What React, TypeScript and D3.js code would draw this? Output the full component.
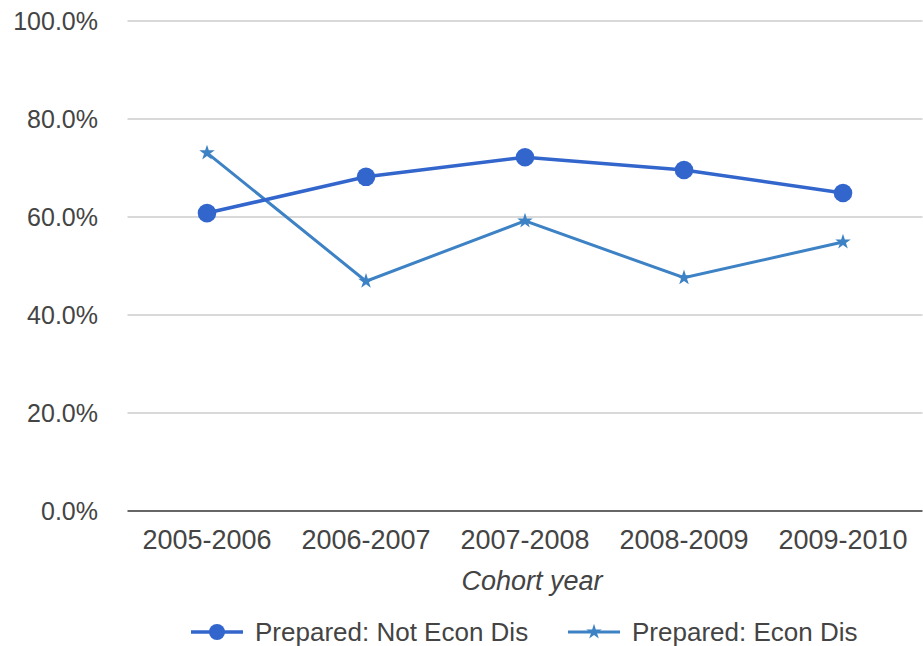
import React, { useEffect } from "react";
import * as d3 from "d3";

const categories = ["2005-2006", "2006-2007", "2007-2008", "2008-2009", "2009-2010"];
const notEconDis = [60.8, 68.2, 72.2, 69.6, 64.9];
const econDis = [73.1, 46.9, 59.2, 47.6, 54.9];
const yTicks = [0, 20, 40, 60, 80, 100];
const seriesNames = ["Prepared: Not Econ Dis", "Prepared: Econ Dis"];
const xTitle = "Cohort year";

const W = 923;
const H = 646;
const left = 127.5;
const right = 922.5;
const top = 21;
const bottom = 511;
const font = "'Liberation Sans', Arial, sans-serif";
const c1 = "#3366cc";
const c2 = "#3d82c4";
const textColor = "#444";

export default function App() {
  useEffect(() => {
    document.body.style.margin = "0";
  }, []);

  const x = d3.scaleBand<string>().domain(categories).range([left, right]);
  const y = d3.scaleLinear().domain([0, 100]).range([bottom, top]);
  const cx = (c: string) => (x(c) as number) + x.bandwidth() / 2;

  const line = d3
    .line<number>()
    .x((_, i) => cx(categories[i]))
    .y((d) => y(d));

  const star = d3.symbol().type(d3.symbolStar).size(75);
  const fmt = d3.format(".1f");

  return (
    <svg width={W} height={H} style={{ display: "block" }} fontFamily={font}>
      <rect width={W} height={H} fill="#fff" />
      {yTicks.map((t) => (
        <g key={t}>
          {t !== 0 && (
            <line x1={left} x2={right} y1={y(t)} y2={y(t)} stroke="#cccccc" strokeWidth={1.5} />
          )}
          <text x={98} y={y(t)} dy="0.36em" textAnchor="end" fontSize={25} fill={textColor}>
            {fmt(t) + "%"}
          </text>
        </g>
      ))}
      <line x1={left} x2={right} y1={y(0)} y2={y(0)} stroke="#333" strokeWidth={1.5} />
      {categories.map((c) => (
        <text key={c} x={cx(c)} y={549} textAnchor="middle" fontSize={27} fill={textColor}>
          {c}
        </text>
      ))}
      <text x={532} y={590} textAnchor="middle" fontSize={27} fontStyle="italic" fill={textColor}>
        {xTitle}
      </text>

      <path d={line(econDis) || ""} fill="none" stroke={c2} strokeWidth={3} />
      {econDis.map((v, i) => (
        <path
          key={i}
          d={star() || ""}
          transform={`translate(${cx(categories[i])},${y(v)})`}
          fill={c2}
        />
      ))}
      <path d={line(notEconDis) || ""} fill="none" stroke={c1} strokeWidth={3.5} />
      {notEconDis.map((v, i) => (
        <circle key={i} cx={cx(categories[i])} cy={y(v)} r={9.3} fill={c1} />
      ))}

      <g>
        <line x1={191} x2={243} y1={632} y2={632} stroke={c1} strokeWidth={3.5} />
        <circle cx={217} cy={632} r={8} fill={c1} />
        <text x={255} y={632} dy="0.36em" fontSize={26} fill={textColor}>
          {seriesNames[0]}
        </text>
        <line x1={568} x2={620} y1={632} y2={632} stroke={c2} strokeWidth={3} />
        <path d={star() || ""} transform="translate(594,632)" fill={c2} />
        <text x={632} y={632} dy="0.36em" fontSize={26} fill={textColor}>
          {seriesNames[1]}
        </text>
      </g>
    </svg>
  );
}
